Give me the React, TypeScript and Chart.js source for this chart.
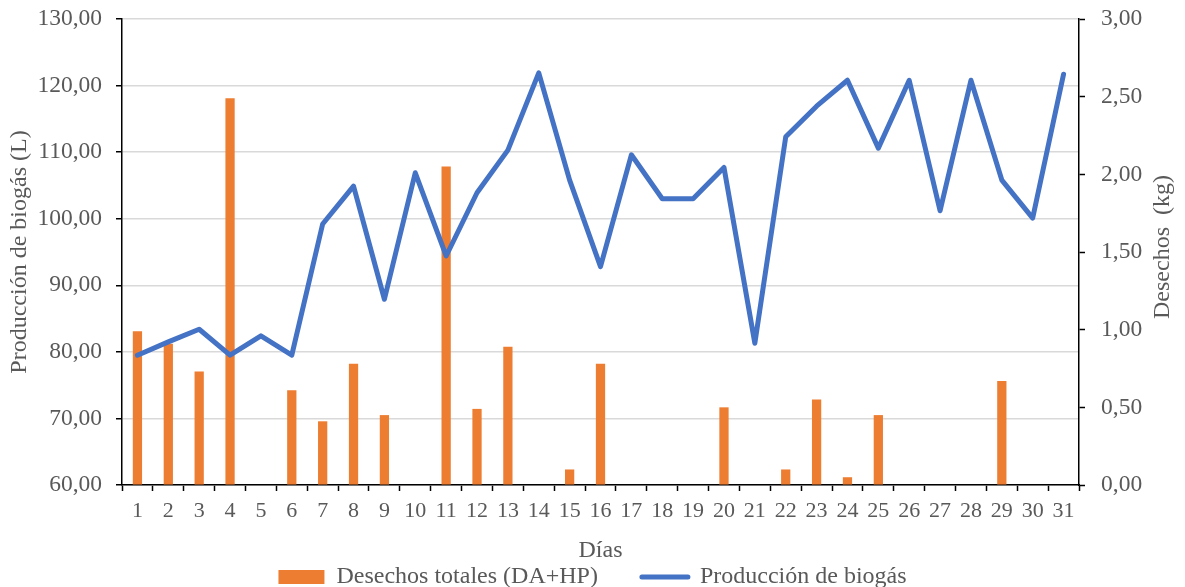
import React, { useEffect, useRef } from "react";
import { Chart, registerables } from "chart.js";

Chart.register(...registerables);

const days = ["1","2","3","4","5","6","7","8","9","10","11","12","13","14","15","16","17","18","19","20","21","22","23","24","25","26","27","28","29","30","31"];

const biogas = [79.5, 81.5, 83.4, 79.5, 82.4, 79.5, 99.2, 104.9, 87.9, 106.9, 94.4, 103.9, 110.3, 121.9, 105.8, 92.8, 109.6, 103.0, 103.0, 107.7, 81.3, 112.3, 116.9, 120.8, 110.6, 120.8, 101.2, 120.8, 105.8, 100.1, 121.7];

const desechos = [0.99, 0.91, 0.73, 2.49, 0, 0.61, 0.41, 0.78, 0.45, 0, 2.05, 0.49, 0.89, 0, 0.10, 0.78, 0, 0, 0, 0.50, 0, 0.10, 0.55, 0.05, 0.45, 0, 0, 0, 0.67, 0, 0];

const leftTicks = [60, 70, 80, 90, 100, 110, 120, 130];
const rightTicks = [0, 0.5, 1, 1.5, 2, 2.5, 3];

const ORANGE = "#ED7D31";
const BLUE = "#4472C4";
const TEXT = "#595959";
const FONT = "'Liberation Serif', 'Times New Roman', serif";
const RIGHT_TITLE = "Desechos  (kg)";

const fmt = (v: number) => v.toFixed(2).replace(".", ",");

const rightTitlePlugin = {
  id: "rightTitle",
  afterDraw(chart: any) {
    const { ctx, chartArea } = chart;
    ctx.save();
    ctx.font = `24px ${FONT}`;
    ctx.fillStyle = TEXT;
    ctx.textAlign = "center";
    ctx.textBaseline = "middle";
    ctx.translate(1163, (chartArea.top + chartArea.bottom) / 2 - 5);
    ctx.rotate(-Math.PI / 2);
    ctx.fillText(RIGHT_TITLE, 0, 0);
    ctx.restore();
  },
};

export default function App() {
  const ref = useRef<HTMLCanvasElement | null>(null);

  useEffect(() => {
    if (!ref.current) return;
    const chart = new Chart(ref.current, {
      type: "bar",
      data: {
        labels: days,
        datasets: [
          {
            type: "line",
            label: "Producción de biogás",
            data: biogas,
            borderColor: BLUE,
            backgroundColor: BLUE,
            borderWidth: 5,
            pointRadius: 0,
            tension: 0,
            yAxisID: "y",
            borderJoinStyle: "round",
            borderCapStyle: "round",
          } as any,
          {
            type: "bar",
            label: "Desechos totales (DA+HP)",
            data: desechos,
            backgroundColor: ORANGE,
            borderWidth: 0,
            barPercentage: 0.3,
            categoryPercentage: 1,
            yAxisID: "y1",
          } as any,
        ],
      },
      options: {
        animation: false,
        responsive: false,
        maintainAspectRatio: false,
        layout: { padding: { top: 19, left: 0, right: 0, bottom: -12 } },
        plugins: {
          tooltip: { enabled: false },
          legend: {
            display: true,
            position: "bottom",
            labels: {
              font: { family: FONT, size: 24 },
              color: TEXT,
              usePointStyle: true,
              pointStyleWidth: 46,
              boxHeight: 14,
              padding: 2,
              generateLabels: () => [
                {
                  text: "Desechos totales (DA+HP)       ",
                  fillStyle: ORANGE,
                  strokeStyle: ORANGE,
                  lineWidth: 0,
                  pointStyle: "rect",
                  datasetIndex: 1,
                  hidden: false,
                  fontColor: TEXT,
                } as any,
                {
                  text: "Producción de biogás",
                  fillStyle: BLUE,
                  strokeStyle: BLUE,
                  lineWidth: 5,
                  lineCap: "round",
                  pointStyle: "line",
                  datasetIndex: 0,
                  hidden: false,
                  fontColor: TEXT,
                } as any,
              ],
            },
          },
        },
        scales: {
          x: {
            type: "category",
            offset: true,
            grid: {
              offset: true,
              drawOnChartArea: false,
              drawTicks: true,
              tickLength: 6,
              tickColor: "#000",
              tickWidth: 1.5,
            },
            border: { display: true, color: "#000", width: 1.5 },
            ticks: {
              font: { family: FONT, size: 22 },
              color: TEXT,
              padding: 7,
              maxRotation: 0,
              autoSkip: false,
            },
            title: {
              display: true,
              text: "Días",
              font: { family: FONT, size: 24 },
              color: TEXT,
              padding: { top: 12, bottom: -2 },
            },
            afterFit: (s: any) => {
              s.height = 78;
            },
          },
          y: {
            type: "linear",
            position: "left",
            min: 60,
            max: 130,
            afterBuildTicks: (s: any) => {
              s.ticks = leftTicks.map((v) => ({ value: v }));
            },
            grid: {
              color: "#d9d9d9",
              lineWidth: 1.5,
              drawTicks: true,
              tickLength: 6,
              tickColor: "#000",
              tickWidth: 1.5,
            },
            border: { display: true, color: "#000", width: 1.5 },
            ticks: {
              font: { family: FONT, size: 23.5 },
              color: TEXT,
              padding: 14,
              callback: (v: any) => fmt(Number(v)),
            },
            title: {
              display: true,
              text: "Producción de biogás (L)",
              font: { family: FONT, size: 24 },
              color: TEXT,
              padding: { top: 5, bottom: 0 },
            },
            afterFit: (s: any) => {
              s.width = 122;
              s.paddingTop = 0;
              s.paddingBottom = 0;
            },
          },
          y1: {
            type: "linear",
            position: "right",
            min: 0,
            max: 3,
            afterBuildTicks: (s: any) => {
              s.ticks = rightTicks.map((v) => ({ value: v }));
            },
            grid: {
              drawOnChartArea: false,
              drawTicks: true,
              tickLength: 6,
              tickColor: "#000",
              tickWidth: 1.5,
            },
            border: { display: true, color: "#000", width: 1.5 },
            ticks: {
              font: { family: FONT, size: 23.5 },
              color: TEXT,
              padding: 16,
              callback: (v: any) => fmt(Number(v)),
            },
            title: { display: false, text: RIGHT_TITLE },
            afterFit: (s: any) => {
              s.width = 106;
              s.paddingTop = 0;
              s.paddingBottom = 0;
            },
          },
        },
      },
      plugins: [rightTitlePlugin],
    });
    return () => chart.destroy();
  }, []);

  return (
    <div style={{ position: "absolute", left: 0, top: 0, width: 1185, height: 587, background: "#fff" }}>
      <canvas ref={ref} width={1185} height={587} style={{ width: 1185, height: 587, display: "block" }} />
    </div>
  );
}
